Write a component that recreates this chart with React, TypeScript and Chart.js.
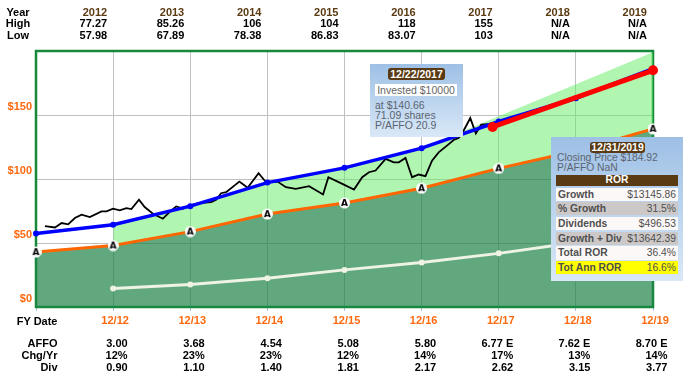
import React, { useEffect, useRef } from 'react';
import { Chart, registerables } from 'chart.js';
Chart.register(...registerables);

// ---- data ----
const headerYears = ['2012', '2013', '2014', '2015', '2016', '2017', '2018', '2019'];
const highPrices = ['77.27', '85.26', '106', '104', '118', '155', 'N/A', 'N/A'];
const lowPrices = ['57.98', '67.89', '78.38', '86.83', '83.07', '103', 'N/A', 'N/A'];
const fyDates = ['', '12/12', '12/13', '12/14', '12/15', '12/16', '12/17', '12/18', '12/19'];
const affoText = ['3.00', '3.68', '4.54', '5.08', '5.80', '6.77 E', '7.62 E', '8.70 E'];
const chgText = ['12%', '23%', '23%', '12%', '14%', '17%', '13%', '14%'];
const divText = ['0.90', '1.10', '1.40', '1.81', '2.17', '2.62', '3.15', '3.77'];

// values at fiscal year ends 12/11 .. 12/19 (x = years after 12/11)
const normalValue = [57.4, 64.2, 78.8, 97.2, 108.7, 124.1, 144.9, 163.1, 186.2];
const fairValue = [42.9, 48.0, 58.9, 72.6, 81.3, 92.8, 108.3, 121.9, 139.2];
const upperBand = [null, 64.2, 78.8, 97.2, 108.7, 124.1, 149.0, 174.0, 199.0];
const dividendLine = [null, 14.4, 17.6, 22.4, 29.0, 34.7, 41.9, 50.4, 60.3];

// closing prices (x = years after 12/11)
const priceT = [0.116, 0.246, 0.332, 0.417, 0.504, 0.591, 0.698, 0.849, 0.914, 0.999, 1.085, 1.172, 1.237, 1.335, 1.409, 1.516, 1.645, 1.754, 1.818, 1.904, 1.99, 2.12, 2.271, 2.335, 2.4, 2.465, 2.637, 2.744, 2.886, 2.982, 3.132, 3.24, 3.369, 3.541, 3.722, 3.791, 3.972, 4.123, 4.23, 4.317, 4.403, 4.533, 4.64, 4.704, 4.791, 4.876, 4.963, 5.05, 5.135, 5.221, 5.329, 5.415, 5.48, 5.544, 5.631, 5.703, 5.773, 5.868, 5.932];
const priceClose = [63.1, 62.1, 65.6, 64.6, 69.5, 72.1, 70.2, 74.7, 74.7, 76.8, 75.5, 77.3, 76.5, 83.8, 78.1, 72.9, 69.0, 75.5, 78.6, 76.8, 79.4, 81.2, 82.0, 83.8, 88.9, 89.7, 98.0, 93.1, 104.5, 97.5, 98.0, 93.6, 92.3, 94.4, 87.9, 101.4, 96.2, 91.8, 101.4, 105.3, 106.6, 115.7, 113.0, 113.0, 116.5, 101.4, 103.5, 102.2, 114.3, 120.8, 126.1, 130.5, 132.1, 137.7, 147.6, 135.6, 142.4, 142.9, 141.0];

const rorT = [5.92, 8];
const rorPrice = [140.66, 184.92];

const yTickValues = [0, 50, 100, 150];

const rorRows = [
  ['Growth', '$13145.86'],
  ['% Growth', '31.5%'],
  ['Dividends', '$496.53'],
  ['Growth + Div', '$13642.39'],
  ['Total ROR', '36.4%'],
  ['Tot Ann ROR', '16.6%'],
];
const rorRowBg = ['#fcf8f8', '#ccc8c8', '#fcf8f8', '#ccc8c8', '#fcf8f8', '#ffff00'];

// ---- layout ----
const W = 688, H = 381;
const LEFT = 36, RIGHT = 653, TOP = 51, BOTTOM = 307;
const colX = (i: number) => LEFT + (i * (RIGHT - LEFT)) / 8;
const FONT = '"Liberation Sans", Arial, sans-serif';
const ORANGE = '#ff6a10';
const BROWN = '#5a3a12';

function makeAMarker() {
  const c = document.createElement('canvas');
  c.width = 11; c.height = 12;
  const g = c.getContext('2d')!;
  g.fillStyle = '#ffffff';
  g.beginPath();
  g.arc(5.5, 6, 5.5, 0, Math.PI * 2);
  g.fill();
  g.fillStyle = '#000';
  g.font = 'bold 9px "DejaVu Sans", sans-serif';
  g.textAlign = 'center';
  g.textBaseline = 'middle';
  g.fillText('A', 5.5, 6.5);
  return c;
}

const borderPlugin = {
  id: 'plotBorder',
  beforeDatasetsDraw(chart: any) {
    const { ctx, chartArea: a } = chart;
    ctx.save();
    ctx.strokeStyle = '#17893b';
    ctx.lineWidth = 2.5;
    ctx.strokeRect(a.left, a.top, a.right - a.left, a.bottom - a.top);
    ctx.restore();
  },
};

const txt = (extra: React.CSSProperties): React.CSSProperties => ({
  position: 'absolute',
  font: `bold 11px ${FONT}`,
  lineHeight: '12px',
  whiteSpace: 'nowrap',
  color: '#000',
  ...extra,
});

export default function App() {
  const ref = useRef<HTMLCanvasElement>(null);

  useEffect(() => {
    const aMarker = makeAMarker();
    const pts = (arr: (number | null)[]) =>
      arr.map((v, i) => (v === null ? null : { x: i, y: v })).filter((p) => p !== null) as any[];
    const chart = new Chart(ref.current!, {
      type: 'line',
      data: {
        datasets: [
          {
            data: rorT.map((t, i) => ({ x: t, y: rorPrice[i] })),
            borderColor: '#ff0000',
            backgroundColor: '#ff0000',
            borderWidth: 5,
            pointRadius: 5,
            pointBorderWidth: 0,
            clip: 10,
          } as any,
          {
            data: pts(normalValue),
            borderColor: '#0000ff',
            backgroundColor: '#0000ff',
            borderWidth: 3.5,
            pointRadius: 3,
            pointBorderWidth: 0,
            clip: 10,
          },
          {
            data: priceT.map((t, i) => ({ x: t, y: priceClose[i] })),
            borderColor: '#000000',
            borderWidth: 1.8,
            pointRadius: 0,
          },
          {
            data: pts(dividendLine),
            borderColor: '#eef3e4',
            backgroundColor: '#eef3e4',
            borderWidth: 3,
            pointRadius: 3,
            pointBorderWidth: 0,
          },
          {
            data: pts(fairValue),
            borderColor: '#ff6600',
            borderWidth: 3,
            pointStyle: aMarker,
            pointRadius: 5,
            fill: 'origin',
            backgroundColor: 'rgba(30,131,73,0.7)',
            clip: 10,
          },
          {
            data: pts(upperBand),
            borderWidth: 0,
            pointRadius: 0,
            fill: 4,
            backgroundColor: 'rgba(97,237,97,0.5)',
          },
        ],
      },
      options: {
        animation: false,
        responsive: false,
        devicePixelRatio: 1,
        layout: { padding: { left: 0, right: W - RIGHT, top: TOP, bottom: 0 } },
        plugins: { legend: { display: false }, tooltip: { enabled: false } },
        elements: { line: { tension: 0 } },
        scales: {
          x: {
            type: 'linear',
            min: 0,
            max: 8,
            afterFit: (s: any) => { s.height = H - BOTTOM; },
            border: { display: false },
            grid: { color: '#c0c0c0', lineWidth: 1, tickLength: 4, tickColor: '#a9c0d6' },
            ticks: {
              stepSize: 1,
              autoSkip: false,
              maxRotation: 0,
              padding: 3,
              labelOffset: 2,
              color: ORANGE,
              font: { family: FONT, size: 11, weight: 'bold' },
              callback: (v: any) => fyDates[Math.round(v)] ?? '',
            },
          },
          y: {
            min: 0,
            max: 200,
            afterFit: (s: any) => { s.width = LEFT; },
            afterBuildTicks: (s: any) => {
              s.ticks = [...yTickValues, 200].map((v) => ({ value: v }));
            },
            border: { display: false },
            grid: { color: '#c0c0c0', lineWidth: 1, drawTicks: false },
            ticks: {
              padding: 4,
              labelOffset: -8.5,
              color: ORANGE,
              font: { family: FONT, size: 11, weight: 'bold' },
              callback: (v: any) => (yTickValues.includes(v) ? '$' + v : ''),
            },
          },
        },
      },
      plugins: [borderPlugin],
    });
    return () => chart.destroy();
  }, []);

  const headerRows: [string, string[], string][] = [
    ['Year', headerYears, BROWN],
    ['High', highPrices, '#000'],
    ['Low', lowPrices, '#000'],
  ];
  const headerCenters = [11.7, 23.3, 34.7];
  const footerRows: [string, string[]][] = [
    ['AFFO', affoText],
    ['Chg/Yr', chgText],
    ['Div', divText],
  ];
  const footerCenters = [343.3, 355, 366.7];

  return (
    <div style={{ position: 'absolute', left: 0, top: 0, width: W, height: H, background: '#fff', overflow: 'hidden' }}>
      <canvas ref={ref} width={W} height={H} style={{ position: 'absolute', left: 0, top: 0, width: W, height: H }} />

      {headerRows.map(([label, vals, color], r) => (
        <React.Fragment key={label}>
          <div style={txt({ left: 0, width: 36, textAlign: 'center', top: headerCenters[r] - 6 })}>{label}</div>
          {vals.map((v, i) => (
            <div key={i} style={txt({ right: W - (colX(i + 1) - 6), textAlign: 'right', top: headerCenters[r] - 6, color })}>{v}</div>
          ))}
        </React.Fragment>
      ))}

      <div style={txt({ right: W - 57.5, textAlign: 'right', top: 321 - 6 })}>FY Date</div>
      {footerRows.map(([label, vals], r) => (
        <React.Fragment key={label}>
          <div style={txt({ right: W - 57.5, textAlign: 'right', top: footerCenters[r] - 6 })}>{label}</div>
          {vals.map((v, i) => (
            <div key={i} style={txt({ right: W - (colX(i + 1) + 14.5), textAlign: 'right', top: footerCenters[r] - 6 })}>{v}</div>
          ))}
        </React.Fragment>
      ))}

      {/* tooltip 1 */}
      <div style={{ position: 'absolute', left: 370, top: 64, width: 93, height: 73, background: 'linear-gradient(#9ec0e5, #d9e8f7)', font: `10.5px ${FONT}`, color: '#5b6470' }}>
        <div style={{ position: 'absolute', left: 18, top: 4, width: 57, height: 12, lineHeight: '12px', background: BROWN, color: '#fff', fontWeight: 'bold', textAlign: 'center', borderRadius: 3 }}>12/22/2017</div>
        <div style={{ position: 'absolute', left: 5, top: 20, width: 82, height: 12, lineHeight: '12px', background: '#fff', color: '#666', textAlign: 'center' }}>Invested $10000</div>
        <div style={{ position: 'absolute', left: 5, top: 36, lineHeight: '10px', whiteSpace: 'nowrap' }}>
          <div>at $140.66</div>
          <div>71.09 shares</div>
          <div>P/AFFO 20.9</div>
        </div>
      </div>

      {/* tooltip 2 */}
      <div style={{ position: 'absolute', left: 551, top: 137, width: 132, height: 144, background: 'linear-gradient(#9ec0e5, #d9e8f7)', font: `10.3px ${FONT}`, color: '#5b6470' }}>
        <div style={{ position: 'absolute', left: 39, top: 5, width: 55, height: 11, lineHeight: '11px', background: BROWN, color: '#fff', fontWeight: 'bold', textAlign: 'center', borderRadius: 3, fontSize: 10.5 }}>12/31/2019</div>
        <div style={{ position: 'absolute', left: 6, top: 16, lineHeight: '10px', whiteSpace: 'nowrap' }}>
          <div>Closing Price $184.92</div>
          <div>P/AFFO NaN</div>
        </div>
        <div style={{ position: 'absolute', left: 5, top: 38, width: 122, height: 10.5, lineHeight: '10.5px', background: BROWN, color: '#fff', fontWeight: 'bold', textAlign: 'center' }}>ROR</div>
        {rorRows.map(([k, v], i) => (
          <div key={k} style={{ position: 'absolute', left: 5, top: 50.5 + i * 14.7, width: 122, height: 13.3, lineHeight: '13.3px', background: rorRowBg[i], color: '#4f4f4f', whiteSpace: 'nowrap' }}>
            <span style={{ position: 'absolute', left: 2, fontWeight: 'bold' }}>{k}</span>
            <span style={{ position: 'absolute', right: 2 }}>{v}</span>
          </div>
        ))}
      </div>
    </div>
  );
}
